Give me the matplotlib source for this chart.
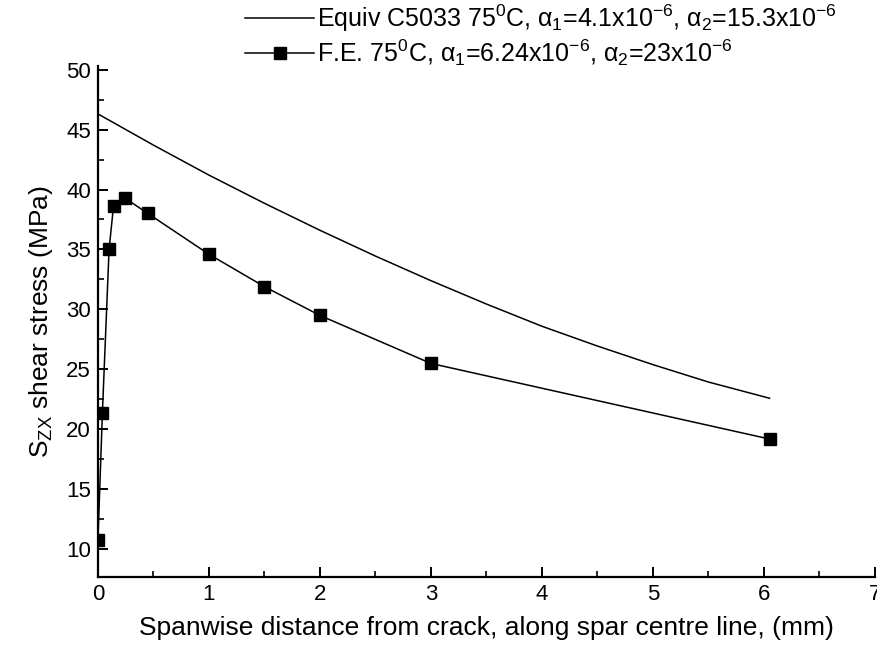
import numpy as np
import matplotlib
matplotlib.use("Agg")
import matplotlib.pyplot as plt
from matplotlib.ticker import MultipleLocator

## Data
x_equiv = [0, 0.5, 1, 1.5, 2, 2.5, 3, 3.5, 4, 4.5, 5, 5.5, 6.05]
y_equiv = [46.3, 43.7, 41.2, 38.85, 36.6, 34.45, 32.4, 30.45, 28.6, 26.95, 25.4, 23.95, 22.6]

x_fe = [0.0, 0.04, 0.10, 0.14, 0.24, 0.45, 1.0, 1.5, 2.0, 3.0, 6.05]
y_fe = [10.8, 21.4, 35.0, 38.6, 39.3, 38.0, 34.6, 31.9, 29.5, 25.5, 19.2]

lab_equiv = r"Equiv C5033 75$^0$C, $\alpha_1$=4.1x10$^{-6}$, $\alpha_2$=15.3x10$^{-6}$"
lab_fe = r"F.E. 75$^0$C, $\alpha_1$=6.24x10$^{-6}$, $\alpha_2$=23x10$^{-6}$"

plt.rcParams['font.family'] = ['Liberation Sans', 'DejaVu Sans']
plt.rcParams['mathtext.fontset'] = 'custom'
plt.rcParams['mathtext.rm'] = 'Liberation Sans'
plt.rcParams['mathtext.it'] = 'Liberation Sans'
plt.rcParams['mathtext.bf'] = 'Liberation Sans'

fig = plt.figure(figsize=(8.77, 6.51), dpi=100)
ax = fig.add_axes([0.1117, 0.1137, 0.886, 0.785])

ax.plot(x_equiv, y_equiv, color='black', lw=1.1, label=lab_equiv)
ax.plot(x_fe, y_fe, color='black', lw=1.1, marker='s', ms=8.5, label=lab_fe)

ax.set_xlim(0, 7)
ax.set_ylim(7.7, 50.3)
ax.xaxis.set_major_locator(MultipleLocator(1))
ax.xaxis.set_minor_locator(MultipleLocator(0.5))
ax.yaxis.set_minor_locator(MultipleLocator(2.5))
ax.set_yticks([10, 15, 20, 25, 30, 35, 40, 45, 50])

for s in ['top', 'right']:
    ax.spines[s].set_visible(False)
for s in ['left', 'bottom']:
    ax.spines[s].set_linewidth(1.6)

ax.tick_params(which='major', direction='in', length=7, width=1.4, labelsize=16, pad=5)
ax.tick_params(which='minor', direction='in', length=4, width=1.2)

ax.set_xlabel("Spanwise distance from crack, along spar centre line, (mm)", fontsize=19, labelpad=8)
ax.set_ylabel(r"S$_{ZX}$ shear stress (MPa)", fontsize=19, labelpad=8)

fig.legend(loc='upper left', bbox_to_anchor=(0.277, 1.0), bbox_transform=fig.transFigure,
           frameon=False, fontsize=18, handlelength=2.75, handletextpad=0.1,
           labelspacing=0.15, borderaxespad=0.0, borderpad=0.1)

fig.savefig("out.png", dpi=100)
